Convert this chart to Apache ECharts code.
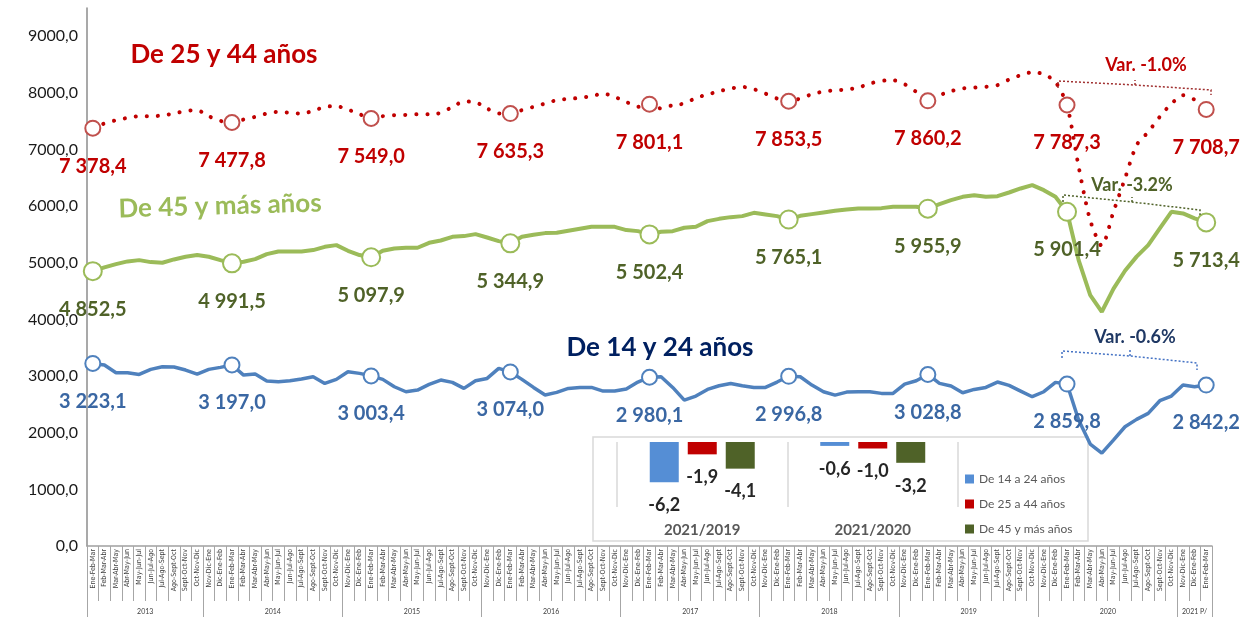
<!DOCTYPE html>
<html><head><meta charset="utf-8">
<script src="https://cdn.jsdelivr.net/npm/echarts@6/dist/echarts.min.js"></script>
<style>html,body{margin:0;padding:0;background:#fff}#c{width:1249px;height:617px}</style>
</head><body><div id="c"></div>
<script>
// ---------- DATA ----------
const periods2013 = ['Ene-Feb-Mar','Feb-Mar-Abr','Mar-Abr-May','Abr-May-Jun','May-Jun-Jul','Jun-Jul-Ago','Jul-Ago-Sept','Ago-Sept-Oct','Sept-Oct-Nov','Oct-Nov-Dic'];
const periodsYear = ['Nov-Dic-Ene','Dic-Ene-Feb','Ene-Feb-Mar','Feb-Mar-Abr','Mar-Abr-May','Abr-May-Jun','May-Jun-Jul','Jun-Jul-Ago','Jul-Ago-Sept','Ago-Sept-Oct','Sept-Oct-Nov','Oct-Nov-Dic'];
const periods2021 = ['Nov-Dic-Ene','Dic-Ene-Feb','Ene-Feb-Mar'];
const years = ['2013','2014','2015','2016','2017','2018','2019','2020','2021 P/'];
const yearSizes = [10,12,12,12,12,12,12,12,3];

const age25to44 = [7378.4,7461,7519,7560,7590,7590,7602,7637,7683,7695,7590,7507,
  7477.8,7531,7578,7637,7666,7648,7637,7683,7754,7766,7707,7625,
  7549.0,7590,7607,7613,7625,7625,7648,7754,7848,7837,7725,7637,
  7635.3,7695,7754,7813,7872,7895,7913,7942,7989,7930,7842,7754,
  7801.1,7725,7784,7813,7913,7972,8031,8078,8107,8066,7989,7901,
  7853.5,7901,7978,8025,8048,8060,8095,8166,8213,8225,8154,8019,
  7860.2,7960,8031,8078,8095,8107,8137,8237,8313,8366,8331,8195,
  7787.3,6700,5750,5300,5900,6490,7080,7310,7580,7810,7960,7880,
  7708.7];
const age45plus = [4852.5,4919,4977,5025,5048,5013,5001,5060,5107,5137,5107,5048,
  4991.5,5019,5066,5154,5201,5201,5201,5225,5283,5313,5213,5137,
  5097.9,5213,5254,5266,5266,5354,5395,5460,5472,5507,5448,5383,
  5344.9,5460,5495,5525,5530,5566,5601,5636,5636,5636,5578,5560,
  5502.4,5548,5560,5619,5636,5736,5777,5807,5825,5883,5854,5825,
  5765.1,5830,5860,5889,5918,5942,5960,5960,5966,5989,5989,5989,
  5955.9,6036,6107,6166,6195,6166,6178,6242,6313,6372,6283,6166,
  5901.4,5048,4430,4136,4540,4860,5110,5313,5607,5901,5872,5784,
  5713.4];
const age14to24 = [3223.1,3195,3060,3060,3030,3119,3165,3160,3107,3036,3119,3154,
  3197.0,3018,3036,2912,2900,2918,2948,2988,2871,2942,3077,3048,
  3003.4,2942,2812,2724,2753,2853,2930,2889,2783,2918,2959,3136,
  3074.0,2942,2800,2665,2712,2783,2800,2800,2736,2736,2771,2895,
  2980.1,2988,2800,2577,2648,2765,2830,2871,2830,2800,2800,2895,
  2996.8,2988,2842,2724,2665,2718,2724,2724,2695,2695,2859,2918,
  3028.8,2871,2824,2706,2765,2800,2895,2836,2736,2636,2724,2889,
  2859.8,2224,1800,1640,1871,2106,2236,2342,2565,2648,2842,2812,
  2842.2];

const insetCategories = ['2021/2019','2021/2020'];
const varNames = ['De 14 a 24 años','De 25 a 44 años','De 45 y más años'];
const var14to24 = [-6.2,-0.6];
const var25to44 = [-1.9,-1.0];
const var45plus = [-4.1,-3.2];

const yTicks = {min:0, max:9500, interval:1000};

// ---------- BUILD ----------
let categories = periods2013.slice();
for (let k = 1; k < years.length - 1; k++) categories = categories.concat(periodsYear);
categories = categories.concat(periods2021);

const yearStart = new Set();
const yearLabelAt = {};
let acc = 0;
yearSizes.forEach((n, k) => {
  yearStart.add(acc);
  const c = acc + (n - 1) / 2;
  const idx = Math.floor(c);
  yearLabelAt[idx] = {text: years[k], half: c !== idx};
  acc += n;
});

function fmt(v) {
  const s = Math.abs(v).toFixed(1).split('.');
  const ip = s[0].replace(/\B(?=(\d{3})+(?!\d))/g, ' ');
  return (v < 0 ? '-' : '') + ip + ',' + s[1];
}

function lineData(arr, sym) {
  return arr.map((v, i) => i % 12 === 0
    ? {value: v, symbol: 'circle', symbolSize: sym.size, label: {show: true}}
    : {value: v, symbol: 'none'});
}

const FONT = 'Lato, "Open Sans", sans-serif';

function lineSeries(name, arr, color, width, lineType, symColor, symSize, labelColor, smooth) {
  return {
    type: 'line', name: name, xAxisIndex: 0, yAxisIndex: 0,
    data: lineData(arr, {size: symSize}),
    showAllSymbol: true, smooth: smooth || false,
    lineStyle: {color: color, width: width, type: lineType, cap: 'round'},
    itemStyle: {color: '#fff', borderColor: symColor, borderWidth: 2},
    label: {show: false, position: 'inside', offset: [0, 38], formatter: p => fmt(p.value),
      color: labelColor, fontSize: 20, fontWeight: 'bold', fontFamily: FONT},
    emphasis: {disabled: true}, z: 3
  };
}

function bracket(pts, color) {
  return {type: 'polyline', shape: {points: pts}, style: {stroke: color, lineWidth: 1.5, lineDash: [2, 2], fill: null}, z: 10};
}
function gtext(text, x, y, color, size, rot) {
  return {type: 'text', x: x, y: y, rotation: rot || 0, z: 10,
    style: {text: text, fill: color, font: 'bold ' + size + 'px ' + FONT, align: 'center', verticalAlign: 'middle'}};
}

const chart = echarts.init(document.getElementById('c'), null, {renderer: 'canvas'});
chart.setOption({
  animation: false,
  backgroundColor: '#fff',
  grid: [
    {left: 87, right: 37, top: 8, bottom: 71},
    {left: 617, top: 442, width: 341, height: 65}
  ],
  legend: {
    data: varNames, orient: 'vertical', left: 960, top: 468, itemWidth: 9, itemHeight: 9, itemGap: 13,
    icon: 'rect', textStyle: {fontSize: 12, color: '#595959', fontFamily: FONT}, selectedMode: false
  },
  xAxis: [
    {type: 'category', gridIndex: 0, data: categories, position: 'bottom',
      axisLine: {lineStyle: {color: '#a0a0a0', width: 1.5}},
      axisTick: {show: true, interval: 0, length: 55, lineStyle: {color: '#a6a6a6'}},
      axisLabel: {interval: 0, rotate: 90, fontSize: 7, margin: 3, color: '#404040', fontFamily: '"Liberation Sans Narrow", "DejaVu Sans Condensed", sans-serif'}
    },
    {type: 'category', gridIndex: 0, data: categories, position: 'bottom',
      axisLine: {show: false},
      axisTick: {show: true, interval: (i) => yearStart.has(i), length: 71, lineStyle: {color: '#a6a6a6'}},
      axisLabel: {interval: 0, margin: 62, fontSize: 7, color: '#404040', fontFamily: FONT,
        formatter: (v, i) => yearLabelAt[i] ? (yearLabelAt[i].half ? '{h|' + yearLabelAt[i].text + '}' : '{n|' + yearLabelAt[i].text + '}') : '',
        rich: {h: {padding: [0, 0, 0, 12], fontSize: 7, color: '#404040'}, n: {fontSize: 7, color: '#404040'}}}
    },
    {type: 'category', gridIndex: 1, data: insetCategories, position: 'bottom',
      axisLine: {show: false}, axisTick: {show: false},
      splitLine: {show: true, lineStyle: {color: '#d9d9d9', width: 1.5}},
      axisLabel: {margin: 16, fontSize: 15, fontWeight: 'bold', color: '#595959', fontFamily: FONT}
    }
  ],
  yAxis: [
    {type: 'value', gridIndex: 0, min: yTicks.min, max: yTicks.max, interval: yTicks.interval,
      axisLine: {show: true, lineStyle: {color: '#8c8c8c', width: 1.5}},
      axisTick: {show: false},
      splitLine: {show: false},
      axisLabel: {showMaxLabel: false, fontSize: 16, color: '#1a1a1a', fontFamily: FONT, margin: 9,
        formatter: v => v.toFixed(1).replace('.', ',')}
    },
    {type: 'value', gridIndex: 1, min: -10, max: 0, show: false, splitLine: {show: false}}
  ],
  graphic: [
    {type: 'rect', shape: {x: 593, y: 437, width: 495, height: 104}, style: {fill: '#fff', stroke: '#d9d9d9', lineWidth: 1.5}, z: 0},
    gtext('De 25 y 44 años', 224, 55, '#C00000', 26),
    gtext('De 45 y más años', 220, 206, '#9BBB59', 26, 0.03),
    gtext('De 14 y 24 años', 660, 348, '#002060', 26),
    gtext('Var. -1.0%', 1146, 65, '#C00000', 18),
    gtext('Var. -3.2%', 1132, 185, '#4F6228', 18),
    gtext('Var. -0.6%', 1135, 337, '#1F3864', 18),
    bracket([[1058, 88], [1058, 81], [1135, 85], [1211, 90], [1211, 95]], '#A03030'),
    bracket([[1135, 85], [1135, 80]], '#A03030'),
    bracket([[1063, 202], [1063, 195], [1132, 202], [1200, 210], [1200, 215]], '#4F6228'),
    bracket([[1132, 202], [1132, 197]], '#4F6228'),
    bracket([[1062, 358], [1062, 351], [1130, 356], [1197, 363], [1197, 370]], '#4472C4'),
    bracket([[1130, 356], [1130, 350]], '#4472C4')
  ],
  series: [
    lineSeries('Ocupados 25-44', age25to44, '#C00000', 4, [0.1, 11], '#C0504D', 15, '#C00000', 0.25),
    lineSeries('Ocupados 45+', age45plus, '#9BBB59', 4, 'solid', '#9BBB59', 18, '#4F6228'),
    lineSeries('Ocupados 14-24', age14to24, '#4F81BD', 3.5, 'solid', '#4F81BD', 15, '#3A67A3'),
    {type: 'bar', name: varNames[0], xAxisIndex: 2, yAxisIndex: 1, data: var14to24, barWidth: 29, barGap: '31%',
      itemStyle: {color: '#558ED5'},
      label: {show: true, position: 'bottom', distance: 14, formatter: p => fmt(p.value), fontSize: 18, fontWeight: 'bold', color: '#262626', fontFamily: FONT}, z: 5},
    {type: 'bar', name: varNames[1], xAxisIndex: 2, yAxisIndex: 1, data: var25to44, barWidth: 29, barGap: '31%',
      itemStyle: {color: '#C00000'},
      label: {show: true, position: 'bottom', distance: 14, formatter: p => fmt(p.value), fontSize: 18, fontWeight: 'bold', color: '#262626', fontFamily: FONT}, z: 5},
    {type: 'bar', name: varNames[2], xAxisIndex: 2, yAxisIndex: 1, data: var45plus, barWidth: 29, barGap: '31%',
      itemStyle: {color: '#4F6228'},
      label: {show: true, position: 'bottom', distance: 14, formatter: p => fmt(p.value), fontSize: 18, fontWeight: 'bold', color: '#262626', fontFamily: FONT}, z: 5}
  ]
});
</script>
</body></html>
